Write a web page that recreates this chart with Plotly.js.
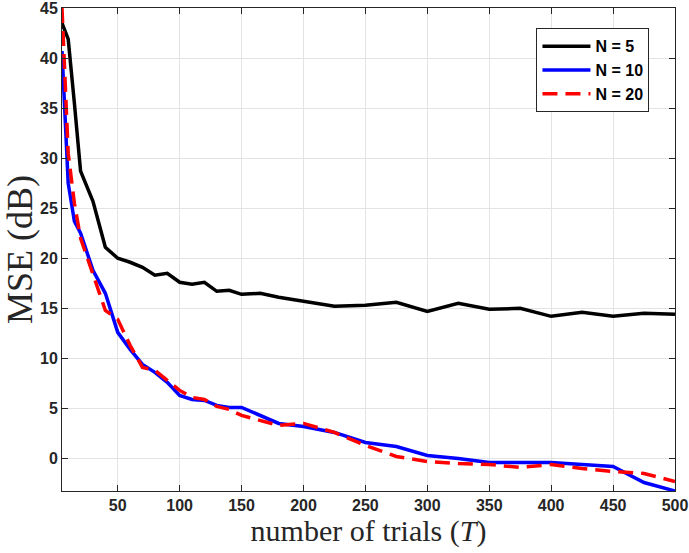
<!DOCTYPE html>
<html>
<head>
<meta charset="utf-8">
<script src="https://cdn.plot.ly/plotly-3.0.1.min.js"></script>
<style>
  html, body { margin: 0; padding: 0; background: #fff; }
  #chart { width: 689px; height: 553px; }
</style>
</head>
<body>
<div id="chart"></div>
<script>
// number of trials T
var trials = [5, 10, 15, 20, 30, 40, 50, 60, 70, 80, 90, 100, 110, 120, 130, 140, 150,
              165, 180, 200, 225, 250, 275, 300, 325, 350, 375, 400, 425, 450, 475, 500];

// MSE (dB) for each N
var mseN5 = [43.5, 41.9, 35.5, 28.7, 25.7, 21.1, 20.0, 19.6, 19.1, 18.3, 18.5, 17.6, 17.4, 17.6, 16.7, 16.8, 16.4,
             16.5, 16.1, 15.7, 15.2, 15.3, 15.6, 14.7, 15.5, 14.9, 15.0, 14.2, 14.6, 14.2, 14.5, 14.4];
var mseN10 = [40.7, 27.5, 23.7, 22.5, 18.8, 16.5, 12.6, 10.9, 9.4, 8.6, 7.6, 6.3, 5.9, 5.8, 5.3, 5.1, 5.1,
              4.3, 3.5, 3.2, 2.6, 1.6, 1.2, 0.3, 0.0, -0.4, -0.4, -0.4, -0.6, -0.8, -2.4, -3.25];
var mseN20 = [45.0, 30.5, 25.5, 22.0, 18.4, 14.8, 13.9, 11.3, 9.1, 8.8, 7.8, 6.8, 6.1, 5.9, 5.2, 4.9, 4.3,
              3.8, 3.3, 3.5, 2.6, 1.3, 0.2, -0.3, -0.5, -0.6, -0.9, -0.6, -1.0, -1.3, -1.5, -2.3];

var xTicks = [50, 100, 150, 200, 250, 300, 350, 400, 450, 500];
var yTicks = [0, 5, 10, 15, 20, 25, 30, 35, 40, 45];

var axisCol = '#262626';
var tickFont = {family: 'Liberation Sans, Arial, sans-serif', size: 16, color: axisCol, weight: 'bold'};
var serif = 'Liberation Serif, Times New Roman, serif';

var data = [
  {x: trials, y: mseN5, type: 'scatter', mode: 'lines', name: 'N = 5',
   line: {color: '#000000', width: 3.5}},
  {x: trials, y: mseN10, type: 'scatter', mode: 'lines', name: 'N = 10',
   line: {color: '#0000ff', width: 3.5}},
  {x: trials, y: mseN20, type: 'scatter', mode: 'lines', name: 'N = 20',
   line: {color: '#ff0000', width: 3.5, dash: '15px,8px'}}
];

var axisCommon = {
  showline: true, linecolor: axisCol, linewidth: 1, mirror: 'ticks',
  ticks: 'inside', ticklen: 6, tickcolor: axisCol, tickwidth: 1,
  showgrid: true, gridcolor: '#e3e3e3', gridwidth: 1, zeroline: false,
  tickfont: tickFont, ticklabeloverflow: 'allow'
};

var layout = {
  width: 689, height: 553,
  margin: {l: 62, r: 14, t: 8, b: 62},
  paper_bgcolor: '#ffffff', plot_bgcolor: '#ffffff',
  showlegend: true,
  legend: {
    x: 0.774, y: 0.958, xanchor: 'left', yanchor: 'top',
    bgcolor: '#ffffff', bordercolor: axisCol, borderwidth: 1,
    font: {family: 'Liberation Sans, Arial, sans-serif', size: 16, color: '#000', weight: 'bold'},
    itemwidth: 48, tracegroupgap: 0
  },
  xaxis: Object.assign({}, axisCommon, {
    range: [5, 500], tickvals: xTicks,
    title: {text: 'number of trials (<i>T</i>)', font: {family: serif, size: 30, color: axisCol}, standoff: 2}
  }),
  yaxis: Object.assign({}, axisCommon, {
    range: [-3.25, 45.001], tickvals: yTicks,
    title: {text: 'MSE (dB)', font: {family: serif, size: 36, color: axisCol}, standoff: 4}
  })
};

Plotly.newPlot('chart', data, layout, {displayModeBar: false, staticPlot: true});
</script>
</body>
</html>
